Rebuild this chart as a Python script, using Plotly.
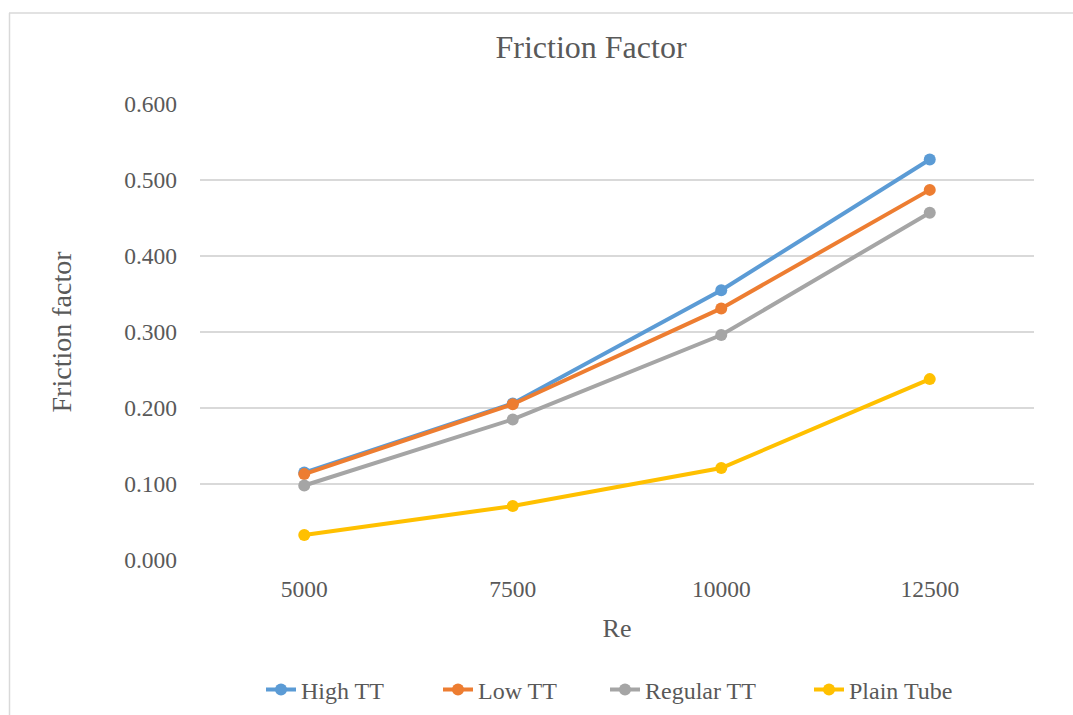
import plotly.graph_objects as go

re_labels = ["5000", "7500", "10000", "12500"]
high_tt = [0.115, 0.206, 0.355, 0.527]
low_tt = [0.113, 0.205, 0.331, 0.487]
regular_tt = [0.098, 0.185, 0.296, 0.457]
plain_tube = [0.033, 0.071, 0.121, 0.238]

series = [
    ("High TT", high_tt, "#5B9BD5"),
    ("Low TT", low_tt, "#ED7D31"),
    ("Regular TT", regular_tt, "#A5A5A5"),
    ("Plain Tube", plain_tube, "#FFC000"),
]

FONT = "Liberation Serif"
TXT = "#595959"

# left edge (px) of each legend entry's text in the reference
legend_text_x = [301, 478, 645, 849]
legend_keys = ["legend", "legend2", "legend3", "legend4"]

fig = go.Figure()
for (name, vals, col), lk in zip(series, legend_keys):
    fig.add_trace(go.Scatter(
        x=re_labels, y=vals, name=name, mode="lines+markers",
        line=dict(color=col, width=4),
        marker=dict(color=col, size=12, symbol="circle"),
        legend=lk,
    ))

legends = {}
for lk, tx in zip(legend_keys, legend_text_x):
    legends[lk] = dict(
        orientation="h", x=(tx - 40) / 1073, xref="container", xanchor="left",
        y=1 - 690 / 715, yref="container", yanchor="middle",
        font=dict(family=FONT, size=24, color=TXT), bgcolor="rgba(0,0,0,0)",
    )

fig.update_layout(
    width=1073, height=715,
    paper_bgcolor="white", plot_bgcolor="white",
    margin=dict(l=200, r=39, t=104, b=155),
    font=dict(family=FONT, color=TXT, size=23.5),
    showlegend=True,
    title=dict(text="Friction Factor", x=591/1073, xref="container", xanchor="center",
               y=1-47/715, yref="container", yanchor="middle",
               font=dict(family=FONT, size=32, color=TXT)),
    xaxis=dict(type="category", range=[-0.5, 3.5], showgrid=False, zeroline=False,
               showline=False, ticks="", ticklabelstandoff=12,
               tickfont=dict(family=FONT, size=23.5, color=TXT),
               title=dict(text="Re", standoff=18, font=dict(family=FONT, size=26, color=TXT))),
    yaxis=dict(range=[0, 0.6], dtick=0.1, tickformat=".3f", showgrid=True,
               gridcolor="#D9D9D9", gridwidth=1.5, zeroline=False, showline=False,
               ticks="", ticklabelstandoff=22,
               tickfont=dict(family=FONT, size=23.5, color=TXT),
               title=dict(text="Friction factor", standoff=44, font=dict(family=FONT, size=28, color=TXT))),
    shapes=[
        dict(type="line", xref="paper", yref="paper",
             x0=(9-200)/834, x1=(1080-200)/834, y0=(560-13)/456, y1=(560-13)/456,
             line=dict(color="#D9D9D9", width=1.5)),
        dict(type="line", xref="paper", yref="paper",
             x0=(9.5-200)/834, x1=(9.5-200)/834, y0=(560-13)/456, y1=(560-720)/456,
             line=dict(color="#D9D9D9", width=1.5)),
    ],
    **legends,
)

fig.write_html("out.html")
